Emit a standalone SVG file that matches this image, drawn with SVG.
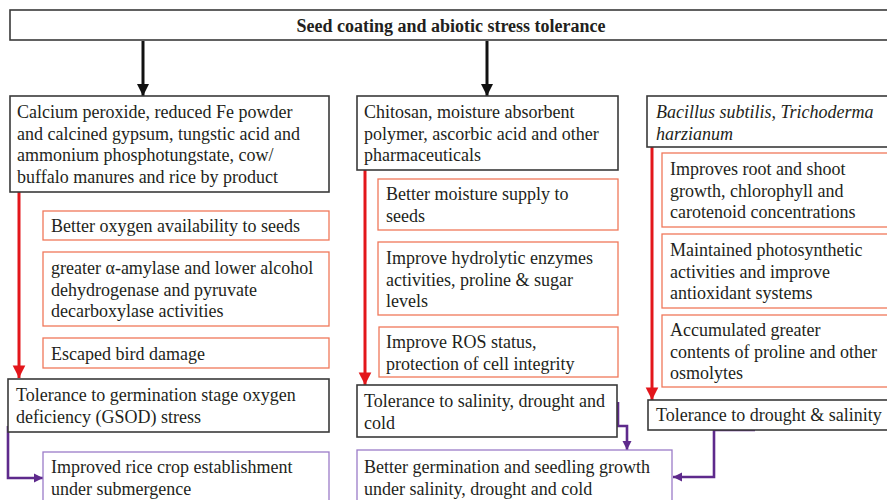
<svg xmlns="http://www.w3.org/2000/svg" width="887" height="500" viewBox="0 0 887 500" font-family="'Liberation Serif', 'DejaVu Serif', serif">
  <style>
    text { font-family: 'Liberation Serif', 'DejaVu Serif', serif; font-size: 18px; fill: #231f20; }
    .title { font-weight: bold; font-size: 18px; text-anchor: middle; }
    .it { font-style: italic; }
    .main { fill: #ffffff; stroke: #3a3a3a; stroke-width: 1.6; }
    .effect { fill: #ffffff; stroke: #f0785a; stroke-width: 1.3; }
    .result { fill: #ffffff; stroke: #9b7cc8; stroke-width: 1.3; }
    .blk { fill: none; stroke: #111111; stroke-width: 3; }
    .red { fill: none; stroke: #e3161b; stroke-width: 3; }
    .pur { fill: none; stroke: #5e2a8c; stroke-width: 2.6; }
  </style>
  <defs>
    <marker id="headBlack" viewBox="0 0 10 10" refX="10" refY="5" markerWidth="4" markerHeight="4.5" orient="auto" markerUnits="strokeWidth">
      <path d="M0,0 L10,5 L0,10 z" fill="#111111"/>
    </marker>
    <marker id="headRed" viewBox="0 0 10 10" refX="10" refY="5" markerWidth="4.2" markerHeight="4.4" orient="auto" markerUnits="strokeWidth">
      <path d="M0,0 L10,5 L0,10 z" fill="#e3161b"/>
    </marker>
    <marker id="headPurple" viewBox="0 0 10 10" refX="10" refY="5" markerWidth="3.6" markerHeight="3.6" orient="auto" markerUnits="strokeWidth">
      <path d="M0,0 L10,5 L0,10 z" fill="#5e2a8c"/>
    </marker>
  </defs>

  <rect width="887" height="500" fill="#ffffff"/>

  <!-- connectors -->
  <g id="connectors">
    <line class="blk" x1="143" y1="41" x2="143" y2="96" marker-end="url(#headBlack)"/>
    <line class="blk" x1="487" y1="41" x2="487" y2="96" marker-end="url(#headBlack)"/>
    <line class="red" x1="19" y1="192" x2="19" y2="378" marker-end="url(#headRed)"/>
    <line class="red" x1="365" y1="170" x2="365" y2="385" marker-end="url(#headRed)"/>
    <line class="red" x1="652" y1="147" x2="652" y2="400" marker-end="url(#headRed)"/>
    <polyline class="pur" points="8,426 8,478 43,478" marker-end="url(#headPurple)"/>
    <polyline class="pur" points="618,402 618,426 627,426 627,450" marker-end="url(#headPurple)"/>
    <polyline class="pur" points="755,430 714,430 714,477 673,477" marker-end="url(#headPurple)"/>
  </g>

  <!-- title -->
  <g id="title">
    <rect class="main" x="10" y="10" width="890" height="30"/>
    <text class="title" x="451" y="31.5">Seed coating and abiotic stress tolerance</text>
  </g>

  <!-- column 1 -->
  <g id="inorganic">
    <rect class="main" x="10" y="96" width="319" height="96"/>
    <text x="17" y="118">Calcium peroxide, reduced Fe powder</text>
    <text x="17" y="139.5">and calcined gypsum, tungstic acid and</text>
    <text x="17" y="161">ammonium phosphotungstate, cow/</text>
    <text x="17" y="182.5">buffalo manures and rice by product</text>
  </g>
  <g id="oxygen">
    <rect class="effect" x="43" y="211" width="286" height="29"/>
    <text x="51" y="232">Better oxygen availability to seeds</text>
  </g>
  <g id="amylase">
    <rect class="effect" x="43" y="252" width="286" height="74"/>
    <text x="51" y="274">greater α-amylase and lower alcohol</text>
    <text x="51" y="295.5">dehydrogenase and pyruvate</text>
    <text x="51" y="317">decarboxylase activities</text>
  </g>
  <g id="bird">
    <rect class="effect" x="43" y="338" width="286" height="30"/>
    <text x="51" y="360">Escaped bird damage</text>
  </g>
  <g id="gsod">
    <rect class="main" x="8" y="379" width="321" height="53"/>
    <text x="16" y="401">Tolerance to germination stage oxygen</text>
    <text x="16" y="422.5">deficiency (GSOD) stress</text>
  </g>
  <g id="submergence">
    <rect class="result" x="43" y="452" width="286" height="60"/>
    <text x="51" y="473">Improved rice crop establishment</text>
    <text x="51" y="494.5">under submergence</text>
  </g>

  <!-- column 2 -->
  <g id="chitosan">
    <rect class="main" x="357" y="96" width="261" height="74"/>
    <text x="364" y="118">Chitosan, moisture absorbent</text>
    <text x="364" y="139.5">polymer, ascorbic acid and other</text>
    <text x="364" y="161">pharmaceuticals</text>
  </g>
  <g id="moisture">
    <rect class="effect" x="378" y="179" width="240" height="51"/>
    <text x="386" y="200">Better moisture supply to</text>
    <text x="386" y="221.5">seeds</text>
  </g>
  <g id="hydrolytic">
    <rect class="effect" x="378" y="242" width="240" height="73"/>
    <text x="386" y="264">Improve hydrolytic enzymes</text>
    <text x="386" y="285.5">activities, proline &amp; sugar</text>
    <text x="386" y="307">levels</text>
  </g>
  <g id="ros">
    <rect class="effect" x="379" y="327" width="239" height="50"/>
    <text x="386" y="348">Improve ROS status,</text>
    <text x="386" y="369.5">protection of cell integrity</text>
  </g>
  <g id="salinity">
    <rect class="main" x="357" y="385" width="260" height="52"/>
    <text x="364" y="407">Tolerance to salinity, drought and</text>
    <text x="364" y="428.5">cold</text>
  </g>
  <g id="germination">
    <rect class="result" x="357" y="450" width="315" height="62"/>
    <text x="364" y="473">Better germination and seedling growth</text>
    <text x="364" y="494.5">under salinity, drought and cold</text>
  </g>

  <!-- column 3 -->
  <g id="microbes">
    <rect class="main" x="647" y="96" width="250" height="51"/>
    <text class="it" x="656" y="118">Bacillus subtilis<tspan font-style="normal">, </tspan>Trichoderma</text>
    <text class="it" x="656" y="139.5">harzianum</text>
  </g>
  <g id="root">
    <rect class="effect" x="662" y="153" width="235" height="74"/>
    <text x="670" y="175">Improves root and shoot</text>
    <text x="670" y="196.5">growth, chlorophyll and</text>
    <text x="670" y="218">carotenoid concentrations</text>
  </g>
  <g id="photosynthesis">
    <rect class="effect" x="662" y="234" width="235" height="74"/>
    <text x="670" y="256">Maintained photosynthetic</text>
    <text x="670" y="277.5">activities and improve</text>
    <text x="670" y="299">antioxidant systems</text>
  </g>
  <g id="osmolytes">
    <rect class="effect" x="662" y="315" width="235" height="72"/>
    <text x="670" y="336">Accumulated greater</text>
    <text x="670" y="357.5">contents of proline and other</text>
    <text x="670" y="379">osmolytes</text>
  </g>
  <g id="drought">
    <rect class="main" x="648" y="400" width="250" height="30"/>
    <text x="656" y="421">Tolerance to drought &amp; salinity</text>
  </g>
</svg>
